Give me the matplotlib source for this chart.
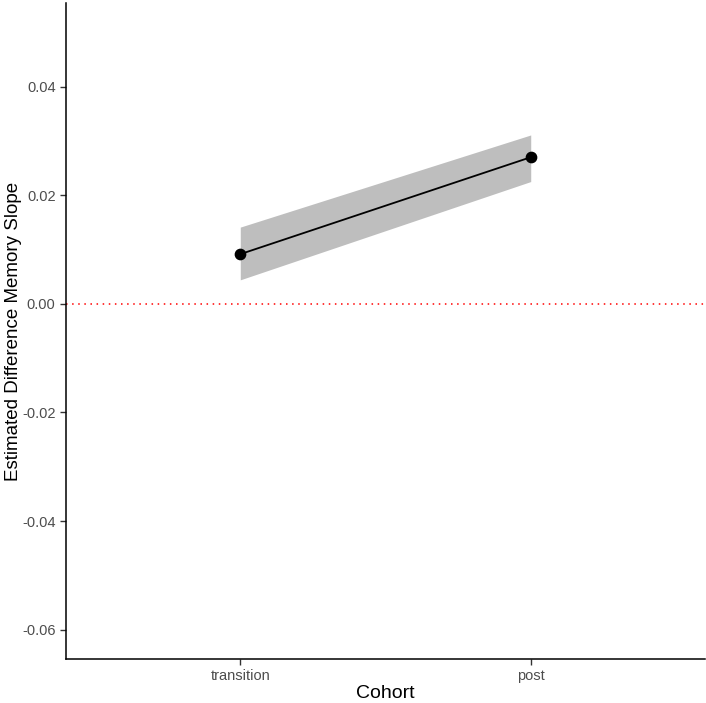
import numpy as np
import matplotlib.pyplot as plt

cohorts = ['transition', 'post']
estimate = [0.00915, 0.0270]
ci_lower = [0.00442, 0.02252]
ci_upper = [0.01413, 0.0311]

plt.rcParams['font.family'] = ['Liberation Sans', 'DejaVu Sans']

fig = plt.figure(figsize=(7.06, 7.03), dpi=100)
ax = fig.add_axes([66 / 706, 44 / 703, 639 / 706, 656 / 703])

x = np.arange(1, len(cohorts) + 1)
ax.fill_between(x, ci_lower, ci_upper, color='#bebebe', linewidth=0, zorder=1)
ax.plot(x, estimate, color='black', linewidth=1.3, zorder=3)
ax.scatter(x, estimate, s=55, color='black', zorder=4)
ax.axhline(0, color='red', linestyle=(0, (1, 3)), linewidth=1.1, zorder=2)

ax.set_xlim(0.4, 2.6)
ax.set_ylim(-0.0654, 0.0554)
ax.set_xticks(x)
ax.set_xticklabels(cohorts)
ax.set_yticks([-0.06, -0.04, -0.02, 0.0, 0.02, 0.04])
ax.set_yticklabels(['-0.06', '-0.04', '-0.02', '0.00', '0.02', '0.04'])
ax.tick_params(axis='both', labelsize=10.5, labelcolor='#4d4d4d', color='#333333',
               length=4, width=1)

for side in ['top', 'right']:
    ax.spines[side].set_visible(False)
for side in ['left', 'bottom']:
    ax.spines[side].set_linewidth(1.1)
    ax.spines[side].set_color('black')

ax.set_xlabel('Cohort', fontsize=14, labelpad=1)
ax.set_ylabel('Estimated Difference Memory Slope', fontsize=13.5, labelpad=0)

fig.savefig('out.png', dpi=100)
